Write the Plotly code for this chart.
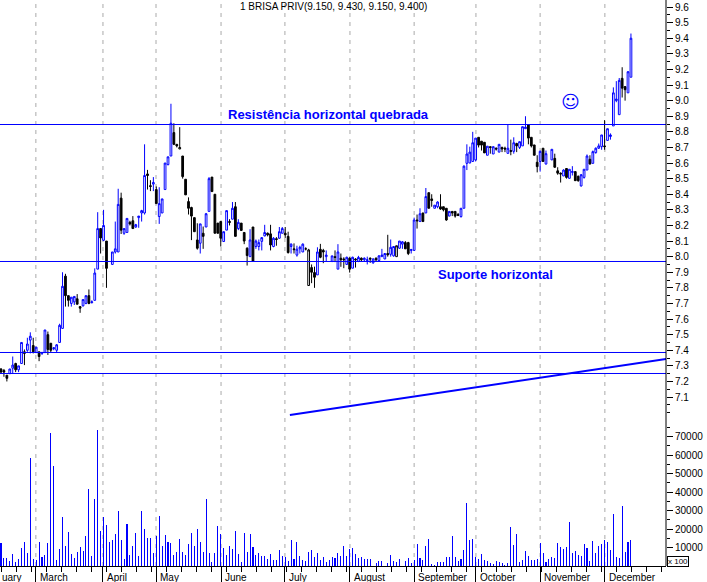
"""BRISA PRIV: grafico diario de velas com volume, suportes e resistencia."""

import plotly.graph_objects as go

# ---------- dados ----------
opens = [
    7.28, 7.27, 7.24, 7.25, 7.285, 7.315, 7.275, 7.315, 7.39, 7.40,
    7.465, 7.43, 7.385, 7.39, 7.38, 7.385, 7.50, 7.445, 7.41, 7.40,
    7.45, 7.54, 7.875, 7.75, 7.70, 7.71, 7.73, 7.68, 7.685, 7.70,
    7.75, 7.705, 7.72, 7.92, 8.18, 8.105, 8.10, 7.95, 8.03, 8.03,
    8.375, 8.15, 8.155, 8.22, 8.23, 8.19, 8.25, 8.28, 8.28, 8.53,
    8.455, 8.465, 8.43, 8.257, 8.28, 8.43, 8.59, 8.645, 8.795, 8.72,
    8.69, 8.645, 8.496, 8.353, 8.315, 8.25, 8.107, 8.086, 8.15, 8.19,
    8.29, 8.51, 8.40, 8.215, 8.225, 8.097, 8.17, 8.225, 8.24, 8.32,
    8.18, 8.215, 8.155, 8.054, 8.0, 8.19, 8.065, 8.065, 8.098, 8.133,
    8.15, 8.146, 8.065, 8.115, 8.118, 8.15, 8.15, 8.13, 8.065, 8.05,
    8.01, 8.05, 8.03, 8.05, 7.815, 7.93, 7.898, 7.883, 8.047, 8.04,
    8.0, 7.97, 8.0, 7.92, 7.99, 7.985, 7.95, 7.99, 7.926, 7.985,
    7.97, 7.99, 7.98, 7.975, 7.99, 7.96, 7.99, 7.975, 8.0, 7.985,
    8.02, 8.015, 8.005, 8.0, 8.054, 8.08, 8.09, 8.09, 8.04, 8.04,
    8.235, 8.225, 8.28, 8.28, 8.41, 8.37, 8.31, 8.32, 8.32, 8.32,
    8.31, 8.26, 8.29, 8.29, 8.27, 8.257, 8.31, 8.598, 8.60, 8.61,
    8.62, 8.765, 8.74, 8.733, 8.65, 8.705, 8.658, 8.695, 8.67, 8.70,
    8.695, 8.662, 8.68, 8.675, 8.725, 8.70, 8.71, 8.82, 8.844, 8.765,
    8.716, 8.605, 8.61, 8.695, 8.594, 8.62, 8.63, 8.55, 8.535, 8.517,
    8.565, 8.502, 8.54, 8.545, 8.515, 8.453, 8.508, 8.555, 8.624, 8.598,
    8.667, 8.695, 8.705, 8.71, 8.745, 8.77, 8.838, 9.0, 8.91, 9.143,
    9.09, 9.05, 9.15,
]
closes = [
    7.26, 7.26, 7.22, 7.28, 7.305, 7.275, 7.30, 7.45, 7.38, 7.44,
    7.49, 7.39, 7.42, 7.36, 7.385, 7.53, 7.405, 7.40, 7.415, 7.435,
    7.56, 7.81, 7.75, 7.72, 7.74, 7.745, 7.695, 7.67, 7.725, 7.75,
    7.70, 7.71, 7.895, 8.18, 8.12, 8.20, 7.925, 8.03, 8.05, 8.335,
    8.17, 8.18, 8.245, 8.21, 8.18, 8.205, 8.26, 8.295, 8.52, 8.52,
    8.45, 8.475, 8.34, 8.34, 8.37, 8.60, 8.64, 8.855, 8.72, 8.71,
    8.70, 8.513, 8.396, 8.31, 8.26, 8.16, 8.054, 8.21, 8.13, 8.275,
    8.50, 8.417, 8.15, 8.15, 8.118, 8.16, 8.295, 8.22, 8.31, 8.13,
    8.22, 8.168, 8.10, 8.007, 8.107, 7.97, 8.10, 8.09, 8.122, 8.155,
    8.14, 8.075, 8.118, 8.11, 8.16, 8.18, 8.14, 8.026, 8.08, 8.045,
    8.048, 8.06, 8.08, 8.05, 8.043, 7.90, 7.868, 8.03, 7.996, 8.03,
    8.01, 8.005, 7.995, 8.03, 7.98, 7.98, 7.996, 7.92, 7.996, 7.98,
    7.995, 7.98, 7.99, 7.98, 7.985, 7.985, 7.98, 8.005, 8.01, 8.02,
    8.012, 8.06, 8.065, 8.07, 8.10, 8.095, 8.05, 8.02, 8.045, 8.235,
    8.23, 8.275, 8.225, 8.385, 8.31, 8.36, 8.33, 8.35, 8.305, 8.30,
    8.235, 8.29, 8.28, 8.26, 8.265, 8.31, 8.58, 8.658, 8.67, 8.73,
    8.76, 8.715, 8.715, 8.665, 8.708, 8.70, 8.705, 8.69, 8.72, 8.69,
    8.69, 8.695, 8.675, 8.73, 8.71, 8.737, 8.833, 8.83, 8.76, 8.71,
    8.65, 8.577, 8.675, 8.61, 8.66, 8.688, 8.573, 8.535, 8.53, 8.555,
    8.508, 8.56, 8.545, 8.487, 8.487, 8.525, 8.56, 8.645, 8.594, 8.673,
    8.695, 8.71, 8.78, 8.705, 8.82, 8.78, 9.05, 9.01, 9.13, 9.08,
    9.07, 9.185, 9.40,
]
highs = [
    7.285, 7.28, 7.24, 7.28, 7.36, 7.32, 7.30, 7.45, 7.405, 7.48,
    7.515, 7.48, 7.42, 7.39, 7.39, 7.53, 7.52, 7.445, 7.42, 7.44,
    7.57, 7.90, 7.89, 7.75, 7.74, 7.745, 7.76, 7.68, 7.725, 7.75,
    7.79, 7.72, 7.925, 8.285, 8.18, 8.30, 8.10, 8.03, 8.225, 8.435,
    8.41, 8.18, 8.245, 8.23, 8.26, 8.21, 8.26, 8.30, 8.72, 8.556,
    8.49, 8.51, 8.45, 8.445, 8.37, 8.60, 8.64, 8.98, 8.855, 8.72,
    8.83, 8.645, 8.496, 8.38, 8.32, 8.25, 8.214, 8.21, 8.193, 8.28,
    8.51, 8.51, 8.40, 8.215, 8.225, 8.16, 8.295, 8.24, 8.35, 8.35,
    8.24, 8.215, 8.155, 8.06, 8.176, 8.19, 8.11, 8.11, 8.125, 8.204,
    8.155, 8.204, 8.125, 8.125, 8.19, 8.19, 8.19, 8.16, 8.085, 8.085,
    8.07, 8.07, 8.085, 8.06, 8.05, 7.95, 7.936, 8.06, 8.082, 8.05,
    8.04, 8.005, 8.04, 8.08, 8.02, 7.996, 8.0, 7.996, 8.0, 7.99,
    8.005, 7.995, 7.995, 8.0, 7.995, 7.99, 7.995, 8.01, 8.05, 8.02,
    8.14, 8.11, 8.065, 8.07, 8.10, 8.10, 8.10, 8.095, 8.05, 8.25,
    8.27, 8.31, 8.28, 8.44, 8.41, 8.40, 8.33, 8.355, 8.40, 8.32,
    8.31, 8.29, 8.29, 8.29, 8.28, 8.31, 8.585, 8.72, 8.705, 8.80,
    8.76, 8.765, 8.74, 8.733, 8.708, 8.705, 8.705, 8.70, 8.72, 8.705,
    8.705, 8.844, 8.75, 8.765, 8.73, 8.737, 8.833, 8.90, 8.85, 8.765,
    8.716, 8.65, 8.68, 8.695, 8.68, 8.688, 8.66, 8.573, 8.54, 8.56,
    8.565, 8.56, 8.58, 8.545, 8.52, 8.53, 8.56, 8.655, 8.65, 8.68,
    8.70, 8.725, 8.78, 8.875, 8.82, 8.79, 9.085, 9.125, 9.145, 9.214,
    9.09, 9.19, 9.43,
]
lows = [
    7.25, 7.23, 7.20, 7.25, 7.25, 7.26, 7.26, 7.315, 7.305, 7.39,
    7.38, 7.38, 7.385, 7.33, 7.37, 7.385, 7.37, 7.385, 7.40, 7.385,
    7.45, 7.54, 7.68, 7.68, 7.68, 7.69, 7.695, 7.64, 7.68, 7.695,
    7.695, 7.70, 7.72, 7.92, 8.02, 8.10, 7.80, 7.95, 8.02, 8.03,
    8.145, 8.14, 8.155, 8.20, 8.18, 8.185, 8.185, 8.225, 8.27, 8.43,
    8.42, 8.42, 8.34, 8.21, 8.28, 8.43, 8.585, 8.645, 8.715, 8.70,
    8.69, 8.50, 8.395, 8.27, 8.106, 8.16, 8.045, 8.02, 8.05, 8.19,
    8.29, 8.415, 8.15, 8.15, 8.065, 8.097, 8.17, 8.20, 8.24, 8.13,
    8.17, 8.165, 8.08, 7.943, 8.0, 7.97, 8.05, 8.04, 8.04, 8.13,
    8.13, 8.04, 8.06, 8.07, 8.115, 8.15, 8.12, 8.02, 8.02, 8.02,
    8.0, 8.02, 8.03, 8.04, 7.815, 7.83, 7.80, 7.883, 7.99, 7.958,
    7.97, 7.965, 7.965, 7.92, 7.935, 7.926, 7.95, 7.898, 7.926, 7.93,
    7.965, 7.97, 7.97, 7.95, 7.96, 7.955, 7.97, 7.97, 8.0, 7.985,
    8.0, 8.0, 8.0, 8.0, 8.05, 8.05, 8.05, 8.01, 8.02, 8.04,
    8.18, 8.225, 8.225, 8.28, 8.31, 8.32, 8.31, 8.31, 8.30, 8.29,
    8.23, 8.26, 8.26, 8.25, 8.26, 8.25, 8.31, 8.555, 8.60, 8.61,
    8.61, 8.70, 8.68, 8.665, 8.65, 8.66, 8.658, 8.68, 8.67, 8.67,
    8.67, 8.662, 8.65, 8.66, 8.67, 8.69, 8.71, 8.82, 8.72, 8.70,
    8.65, 8.54, 8.545, 8.61, 8.59, 8.62, 8.57, 8.525, 8.475, 8.517,
    8.50, 8.50, 8.52, 8.485, 8.48, 8.45, 8.50, 8.555, 8.59, 8.598,
    8.66, 8.69, 8.685, 8.685, 8.745, 8.75, 8.838, 8.99, 8.91, 9.02,
    9.0, 9.05, 9.15,
]
volumes = [
    12200, 4300, 4300, 2700, 6500, 2200, 3800, 9700, 13000, 7000,
    58300, 3800, 3200, 13000, 4900, 5900, 12400, 71800, 54000, 3200,
    9200, 26500, 10800, 18400, 6500, 4300, 7600, 10300, 8100, 16200,
    41600, 5400, 36200, 73400, 18900, 26500, 22100, 13000, 14000, 17300,
    29700, 14000, 3800, 22700, 5900, 10800, 17800, 5400, 29700, 20000,
    15100, 15100, 7000, 16200, 27000, 10800, 16700, 13000, 12400, 5900,
    7600, 14600, 7600, 5900, 11900, 17800, 10800, 20000, 13000, 7600,
    36200, 7000, 2200, 7000, 21600, 17300, 9700, 5900, 10800, 9200,
    18900, 6500, 2200, 17800, 7600, 17300, 10300, 5900, 7000, 5400,
    5400, 3800, 6500, 3200, 3200, 8600, 5400, 4900, 2700, 14000,
    3800, 13000, 5400, 3200, 2700, 7600, 8600, 4900, 7000, 3200,
    4900, 2200, 3200, 4900, 4300, 7000, 5400, 10800, 5400, 9200,
    9700, 6500, 4300, 4900, 3800, 3800, 3800, 0, 1600, 2700,
    2700, 0, 1600, 5900, 2700, 2200, 3800, 0, 2700, 4300,
    1600, 3200, 11900, 4300, 3200, 10800, 14600, 1100, 500, 2200,
    2200, 2200, 4900, 4900, 16200, 4900, 2700, 3800, 8600, 34000,
    14000, 14600, 4900, 3800, 6500, 3200, 2700, 1600, 1100, 2700,
    2200, 1600, 500, 1600, 21100, 11300, 17300, 2200, 3200, 8100,
    5400, 3200, 3200, 3800, 12400, 7000, 2200, 3800, 4900, 4300,
    12400, 10300, 9200, 10300, 23800, 7000, 8100, 5900, 5400, 11900,
    9700, 2700, 13500, 7000, 10800, 11900, 14000, 13000, 8600, 28100,
    4900, 4300, 32400, 7600, 13000, 14000,
]

# pregoes sem vela visivel e velas pretas vazadas
missing_days = [37, 112, 187]
hollow_bars = [60, 104, 133]

month_names = ["March", "April", "May", "June", "July", "August",
               "September", "October", "November", "December"]
month_days = [11.9, 34.8, 52.9, 75.1, 96.9, 119.1, 141.0, 162.1, 184.0, 206.1]

price_ticks = [7.1, 7.2, 7.3, 7.4, 7.5, 7.6, 7.7, 7.8, 7.9, 8.0, 8.1, 8.2, 8.3,
               8.4, 8.5, 8.6, 8.7, 8.8, 8.9, 9.0, 9.1, 9.2, 9.3, 9.4, 9.5, 9.6]
volume_ticks = [10000, 20000, 30000, 40000, 50000, 60000, 70000]

horizontal_levels = [8.847, 7.969, 7.3857, 7.2511]
trend_days = [98.6, 227.0]
trend_prices = [6.985, 7.344]

BLUE = "#0000ff"
FONT = "Liberation Sans, Arial, sans-serif"

# ---------- geometria em pixels ----------
WIDTH, HEIGHT = 707, 582
PLOT_W, PLOT_H = 666, 566
PX_PER_DAY = 2.93


def paper_x(px):
    return px / PLOT_W


def paper_y(py):
    return (PLOT_H - py) / PLOT_H


days = [d for d in range(len(volumes)) if d not in missing_days]
solid = [i for i in range(len(days)) if i not in hollow_bars]


def pick(values, idx):
    return [values[i] for i in idx]


def label(text, px, py, size=10, color="black", family=FONT, **extra):
    return dict(text=text, xref="paper", yref="paper", x=paper_x(px), y=paper_y(py),
                xanchor="center", yanchor="middle", showarrow=False,
                font=dict(size=size, color=color, family=family), **extra)


# ---------- figura ----------
fig = go.Figure()

# largura minima: o plotly expande a barra para 1 pixel inteiro
fig.add_trace(go.Bar(
    x=list(range(len(volumes))),
    y=volumes,
    width=0.02,
    marker=dict(color=BLUE, line=dict(width=0)),
    yaxis="y",
))

fig.add_trace(go.Candlestick(
    x=pick(days, solid),
    open=pick(opens, solid),
    high=pick(highs, solid),
    low=pick(lows, solid),
    close=pick(closes, solid),
    increasing=dict(line=dict(color=BLUE, width=1), fillcolor="white"),
    decreasing=dict(line=dict(color="black", width=1), fillcolor="black"),
    yaxis="y2",
))
fig.add_trace(go.Candlestick(
    x=pick(days, hollow_bars),
    open=pick(opens, hollow_bars),
    high=pick(highs, hollow_bars),
    low=pick(lows, hollow_bars),
    close=pick(closes, hollow_bars),
    increasing=dict(line=dict(color="black", width=1), fillcolor="white"),
    decreasing=dict(line=dict(color="black", width=1), fillcolor="white"),
    yaxis="y2",
))
fig.add_trace(go.Scatter(
    x=trend_days,
    y=trend_prices,
    mode="lines",
    line=dict(color=BLUE, width=2),
    yaxis="y2",
))

shapes = []
for day in month_days:
    shapes.append(dict(
        type="line", xref="x", yref="paper", x0=day, x1=day, y0=0, y1=1,
        line=dict(color="#aaaaaa", width=1, dash="4px,5px"), layer="below",
    ))
for level in horizontal_levels:
    shapes.append(dict(
        type="line", xref="paper", yref="y2", x0=0, x1=1, y0=level, y1=level,
        line=dict(color=BLUE, width=1), layer="above",
    ))
shapes.append(dict(
    type="line", xref="paper", yref="paper", x0=1, x1=1, y0=0, y1=1,
    line=dict(color="black", width=1),
))

annotations = [
    label("1 BRISA PRIV(9.150, 9.430, 9.150, 9.400)", 333, 7),
    label("<b>Resistência horizontal quebrada</b>", 328, 114, size=13, color=BLUE),
    label("<b>Suporte horizontal</b>", 495, 274, size=13, color=BLUE),
    label("☺", 570, 102, size=18, color=BLUE, family="DejaVu Sans"),
    label("x 100", 677.5, 561.5, size=8, bordercolor="black", borderwidth=1,
          borderpad=0, bgcolor="white"),
    dict(text="uary", xref="paper", yref="paper", x=0, y=paper_y(577),
         xanchor="left", yanchor="middle", showarrow=False,
         font=dict(size=10, color="black", family=FONT)),
]
for name, day in zip(month_names, month_days):
    annotations.append(dict(
        text=name, xref="x", yref="paper", x=day, y=paper_y(577),
        xanchor="left", yanchor="middle", xshift=2, showarrow=False,
        font=dict(size=10, color="black", family=FONT),
    ))

fig.update_layout(
    width=WIDTH,
    height=HEIGHT,
    margin=dict(l=0, r=WIDTH - PLOT_W, t=0, b=HEIGHT - PLOT_H, pad=0),
    showlegend=False,
    plot_bgcolor="white",
    paper_bgcolor="white",
    font=dict(family=FONT, size=10, color="black"),
    bargap=0,
    boxmode="overlay",
    boxgap=0.15,
    shapes=shapes,
    annotations=annotations,
    xaxis=dict(
        range=[-1 / PX_PER_DAY, (PLOT_W - 1) / PX_PER_DAY],
        rangeslider=dict(visible=False),
        showgrid=False,
        zeroline=False,
        showline=True,
        linecolor="black",
        tickmode="array",
        tickvals=month_days,
        ticktext=[""] * len(month_days),
        ticks="outside",
        ticklen=16,
        tickcolor="black",
        minor=dict(tickmode="linear", tick0=0.1, dtick=5.12, ticks="outside",
                   ticklen=5, tickcolor="black", showgrid=False),
    ),
    yaxis=dict(
        domain=[0, paper_y(424)],
        range=[0, 76757],
        side="right",
        anchor="x",
        showgrid=False,
        zeroline=False,
        tickmode="array",
        tickvals=volume_ticks,
        ticktext=[str(v) for v in volume_ticks],
        ticks="outside",
        ticklen=6,
        tickcolor="black",
        minor=dict(tickmode="linear", tick0=0, dtick=5000, ticks="outside",
                   ticklen=3, tickcolor="black", showgrid=False),
    ),
    yaxis2=dict(
        domain=[paper_y(420), 1],
        range=[6.953, 9.645],
        side="right",
        anchor="x",
        showgrid=False,
        zeroline=False,
        tickmode="array",
        tickvals=price_ticks,
        ticktext=[f"{v:.1f}" for v in price_ticks],
        ticks="outside",
        ticklen=6,
        tickcolor="black",
        minor=dict(tickmode="linear", tick0=0, dtick=0.05, ticks="outside",
                   ticklen=3, tickcolor="black", showgrid=False),
    ),
)

# a pagina tem margem padrao de 8px, que deslocaria o grafico
fig.write_html("out.html", config={"displayModeBar": False},
               post_script="document.body.style.margin = '0';")
